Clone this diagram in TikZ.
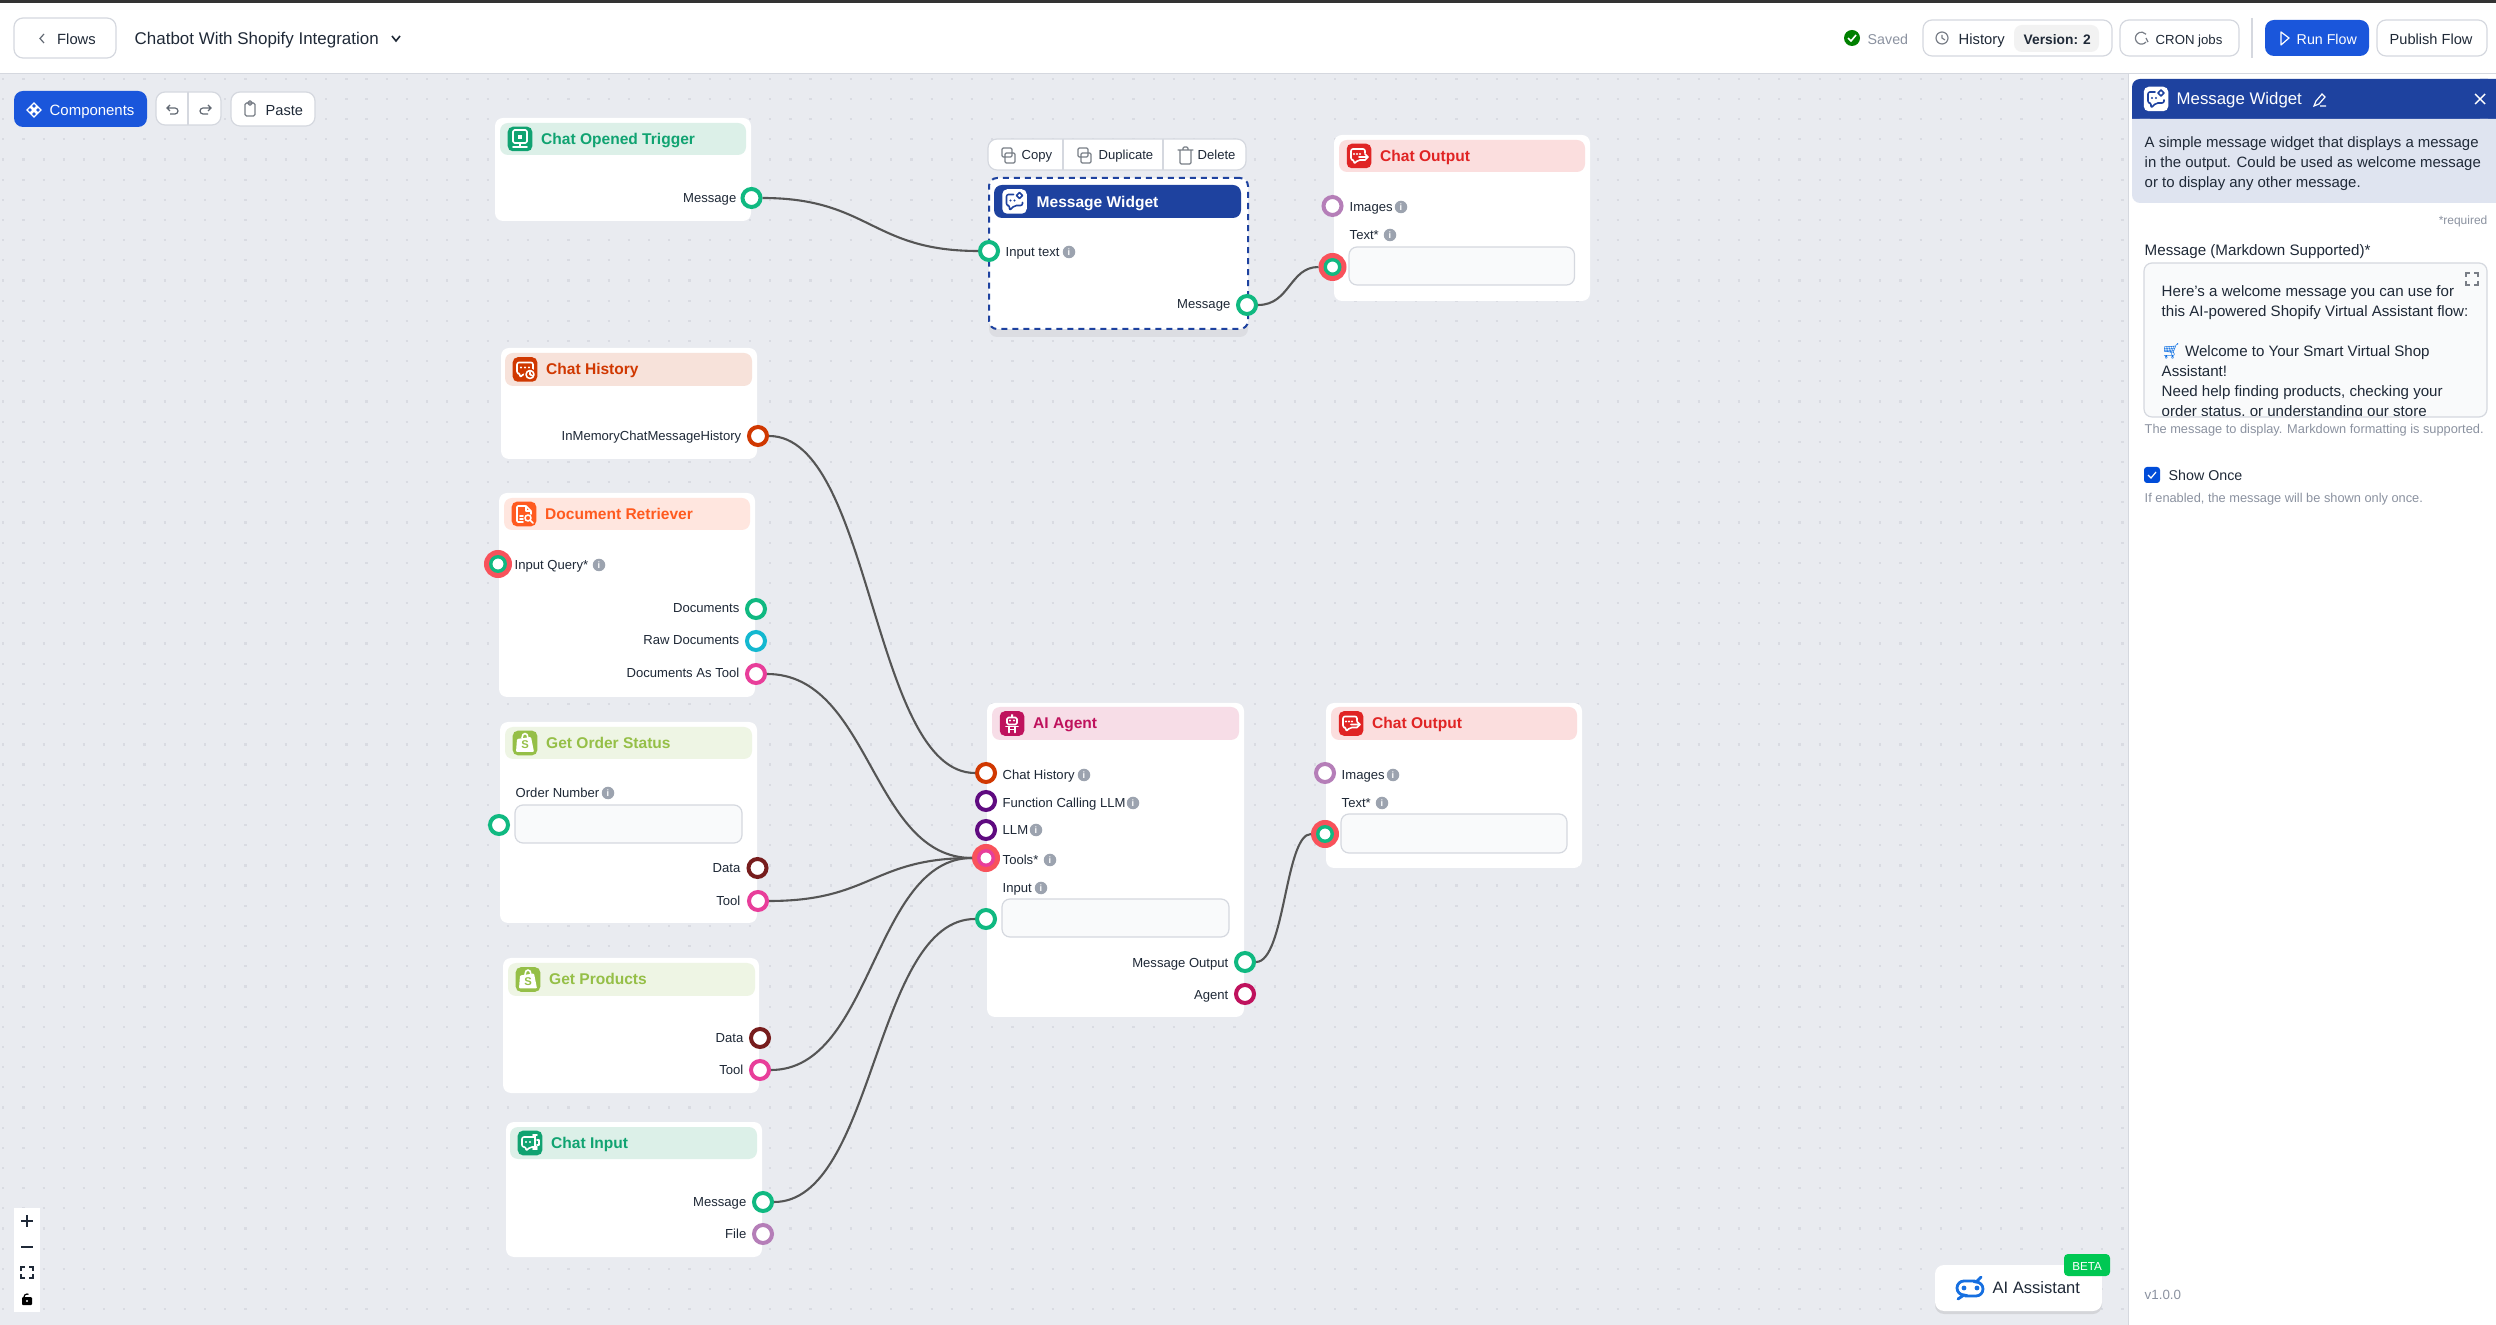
\documentclass[tikz,border=0pt]{standalone}
\usepackage{fontspec}
\setmainfont{Liberation Sans}
\newfontfamily\emojifont{Noto Emoji}
\usetikzlibrary{fit,shadows}
\definecolor{canvas}{HTML}{E9EBF0}
\definecolor{griddot}{HTML}{D9DBE2}
\definecolor{ink}{HTML}{1F2937}
\definecolor{muted}{HTML}{8B92A0}
\definecolor{hairline}{HTML}{D5D8DF}
\definecolor{fieldbg}{HTML}{F9FAFB}
\definecolor{wirecol}{HTML}{555555}
\definecolor{hotred}{HTML}{F8525B}
\definecolor{infogray}{HTML}{9CA3AF}
\definecolor{btnblue}{HTML}{1A56DB}
\definecolor{navy}{HTML}{1E429F}
\definecolor{panelbg}{HTML}{DFE4F0}
\definecolor{pgreen}{HTML}{10B981}
\definecolor{pteal}{HTML}{14B8D0}
\definecolor{ppink}{HTML}{E83E9A}
\definecolor{pmaroon}{HTML}{771D1D}
\definecolor{ppurple}{HTML}{B57EB8}
\definecolor{pviolet}{HTML}{5F0B80}
\definecolor{pcrimson}{HTML}{BF125D}
\definecolor{porange}{HTML}{D03801}
\definecolor{tealdk}{HTML}{10A371}
\definecolor{tealbg}{HTML}{DCF0E8}
\definecolor{reddk}{HTML}{E02424}
\definecolor{redbg}{HTML}{FBDEDE}
\definecolor{rustbg}{HTML}{F7E2DA}
\definecolor{flamedk}{HTML}{FF5A1F}
\definecolor{flamebg}{HTML}{FFE6DF}
\definecolor{shopdk}{HTML}{95BF47}
\definecolor{shopbg}{HTML}{EEF5E4}
\definecolor{agentbg}{HTML}{F7DDE7}
\definecolor{betagreen}{HTML}{00C853}
\tikzset{
  port/.style={circle,draw=#1,fill=white,line width=0.04cm,minimum size=0.18cm,inner sep=0pt},
  hotring/.style={port=#1,line width=0.034cm,minimum size=0.145cm},
  halo/.style={circle,fill=hotred,minimum size=0.28cm,inner sep=0pt,outer sep=0pt},
  wire/.style={draw=wirecol,line width=0.021cm},
  cardbox/.style={fill=white,rounded corners=0.08cm,inner sep=0pt,outer sep=0pt},
  stripbox/.style={rounded corners=0.08cm,inner sep=0pt,outer sep=0pt},
  fieldbox/.style={fill=fieldbg,draw=hairline,line width=0.012cm,rounded corners=0.08cm,inner sep=0pt,outer sep=0pt},
  btnbox/.style={fill=white,draw=hairline,line width=0.012cm,rounded corners=0.09cm,inner sep=0pt,outer sep=0pt},
  bluebox/.style={fill=btnblue,rounded corners=0.09cm,inner sep=0pt,outer sep=0pt},
  iconbox/.style={rounded corners=0.05cm,minimum size=0.245cm,inner sep=0pt,outer sep=0pt},
  lbl/.style={anchor=west,inner sep=0pt,text=ink,font=\fontsize{3.72}{4}\selectfont,text height=3.1pt,text depth=0.35pt},
  lblr/.style={lbl,anchor=east},
  ttl/.style={anchor=west,inner sep=0pt,font=\bfseries\fontsize{4.42}{5}\selectfont,text height=3.6pt,text depth=0.5pt},
  ui/.style={anchor=west,inner sep=0pt,text=ink,font=\fontsize{4.05}{5}\selectfont,text height=3.4pt,text depth=0.5pt},
  note/.style={anchor=west,inner sep=0pt,text=muted,font=\fontsize{3.64}{4}\selectfont,text height=2.9pt,text depth=0.3pt},
  info/.style={circle,fill=infogray,text=white,minimum size=0.125cm,inner sep=0pt,font=\bfseries\fontsize{2.6}{3}\selectfont},
  glyph/.style={line width=0.016cm,line cap=round,line join=round},
  tool/.style={draw=#1,line width=0.012cm,rounded corners=0.012cm,line cap=round}
}
\newcommand{\card}[5]{\node[cardbox,fit={(#2,#3)(#4,#5)}] (#1) {};}
\newcommand{\hdr}[9]{
  \node[stripbox,fill=#6,fit={(#2,#3)(#4,#5)}] (#1strip) {};
  \node[iconbox,fill=#7] (#1icon) at (#2+20,{(#3+#5)/2}) {};
  \begin{scope}[shift={(#2+20,{(#3+#5)/2})}] #9 \end{scope}
  \node[ttl,text=#7] (#1title) at (#2+40.5,{(#3+#5)/2}) {#8};
}
\newcommand{\hotport}[4]{
  \node[halo] (#1) at (#2,#3) {};
  \node[hotring=#4] (#1ring) at (#2,#3) {};
}
\newcommand{\glyphbubble}[1]{
  \draw[glyph,#1,rounded corners=0.02cm] (-8,-7) -- (8,-7) -- (8,4) -- (-1,4) -- (-5,8) -- (-5,4) -- (-8,4) -- cycle;
  \fill[#1] (-4,-2) circle (1.1) (0,-2) circle (1.1) (4,-2) circle (1.1);
}
\newcommand{\glyphout}{
  \draw[glyph,white,rounded corners=0.02cm] (6,-3) -- (6,-7) -- (-8,-7) -- (-8,4) -- (-5,4) -- (-5,8) -- (-1,4) -- (6,4);
  \fill[white] (-5,-2) circle (1.1) (-2,-2) circle (1.1) (1,-2) circle (1.1);
  \draw[glyph,white] (0,1) -- (9,1) (6,-2) -- (9,1) -- (6,4);
}
\newcommand{\glyphclock}{
  \glyphbubble{white}
  \fill[porange] (5,5) circle (6);
  \draw[glyph,white] (5,5) circle (4) (5,3) -- (5,5) -- (7,6);
}
\newcommand{\glyphdoc}{
  \draw[glyph,white,rounded corners=0.01cm] (-1,8) -- (-7,8) -- (-7,-8) -- (2,-8) -- (7,-3) -- (7,0);
  \draw[glyph,white] (2,-8) -- (2,-3) -- (7,-3) (-4,2) -- (-1,2) (-4,5) -- (-1,5);
  \draw[glyph,white] (4,4) circle (3) (6,6) -- (9,9);
}
\newcommand{\glyphbag}{
  \fill[white,rounded corners=0.01cm] (-8,-4) -- (6,-6) -- (9,9) -- (-9,9) -- cycle;
  \draw[glyph,white] (-3,-5) .. controls (-3,-11) and (3,-11) .. (3,-5);
  \node[font=\bfseries\fontsize{3.2}{3}\selectfont,text=shopdk,inner sep=0pt] at (0,2) {S};
}
\newcommand{\glyphbot}{
  \draw[glyph,white,rounded corners=0.015cm] (-5,-6) rectangle (5,1);
  \fill[white] (-2,-3) circle (1.2) (2,-3) circle (1.2) (-1,-9) rectangle (1,-6);
  \draw[glyph,white] (-6,3) -- (6,3) (-3,3) -- (-3,9) (3,3) -- (3,9) (-3,6) -- (3,6);
}
\newcommand{\glyphscreen}{
  \draw[glyph,white,rounded corners=0.015cm] (-7,-9) rectangle (7,4);
  \fill[white] (-2,-4) rectangle (2,0);
  \draw[glyph,white] (0,4) -- (0,8) (-7,8) -- (7,8);
}
\newcommand{\glyphin}{
  \draw[glyph,white,rounded corners=0.02cm] (4,-6) -- (-8,-6) -- (-8,4) -- (-4,4) -- (-4,8) -- (0,4) -- (7,4);
  \fill[white] (-4,-1) circle (1.1) (0,-1) circle (1.1);
  \draw[glyph,white] (5,-8) -- (5,6) (3,-8) -- (7,-8) (3,6) -- (7,6) (7,-3) -- (9,-3) -- (9,2) -- (7,2);
}
\newcommand{\glyphwidget}{
  \draw[glyph,navy,rounded corners=0.02cm] (-1,-7) -- (-8,-7) -- (-8,4) -- (-5,4) -- (-5,9) -- (0,4) -- (8,4) -- (8,1);
  \fill[navy] (-4,-1) circle (1.1) (0,-1) circle (1.1);
  \draw[glyph,navy] (5,-9) -- (8,-6) -- (5,-3) -- (2,-6) -- cycle;
}
\begin{document}
\begin{tikzpicture}[x=0.01cm,y=-0.01cm]
\useasboundingbox (0,0) rectangle (2496,1325);
\fill[white] (0,0) rectangle (2496,1325);
\fill[canvas] (0,74) rectangle (2128,1325);
\foreach \j in {0,...,61} \draw[griddot,line width=0.022cm,dash pattern=on 0.022cm off 0.1797cm] (2.2,\j*20.17+78.8) -- (2128,\j*20.17+78.8);
\fill[black!80] (0,0) rectangle (2496,3);
\draw[hairline,line width=0.01cm] (0,74) -- (2496,74) (2128,74) -- (2128,1325);

\node[btnbox,fit={(14,18)(116,58)}] (flowsbtn) {};
\draw[ink!70,line width=0.012cm] (44,34) -- (40,38.5) -- (44,43);
\node[ui,font=\fontsize{4.2}{5}\selectfont] (flowstxt) at (56.5,39) {Flows};
\node[ui,font=\fontsize{4.82}{5}\selectfont] (flowname) at (134,39) {Chatbot With Shopify Integration};
\draw[ink,line width=0.016cm] (392,36) -- (396,41) -- (400,36);
\node[bluebox,fit={(14,91)(147,127)}] (compbtn) {};
\draw[white,line width=0.012cm] (34,103) -- (37,106) -- (34,109) -- (31,106) -- cycle (34,111) -- (37,114) -- (34,117) -- (31,114) -- cycle (30,107) -- (33,110) -- (30,113) -- (27,110) -- cycle (38,107) -- (41,110) -- (38,113) -- (35,110) -- cycle;
\node[ui,text=white,font=\fontsize{4.25}{5}\selectfont] (comptxt) at (49,110) {Components};
\node[btnbox,fit={(156,92)(221,125)}] (undobtn) {};
\draw[hairline,line width=0.012cm] (188,92) -- (188,125);
\draw[ink!70,line width=0.012cm] (167,108) -- (175,108) arc (-90:90:3) -- (170,114) (170,105) -- (167,108) -- (170,111);
\draw[ink!70,line width=0.012cm] (211,108) -- (203,108) arc (270:90:3) -- (208,114) (208,105) -- (211,108) -- (208,111);
\node[btnbox,fit={(231,92)(315,126)}] (pastebtn) {};
\draw[ink!60,line width=0.012cm,rounded corners=0.015cm] (245,103) rectangle (255,116) (248,101) rectangle (252,105);
\node[ui,font=\fontsize{4.15}{5}\selectfont] (pastetxt) at (265,110) {Paste};

\fill[green!50!black] (1852,38) circle (8);
\draw[white,line width=0.016cm] (1848,38) -- (1851,41) -- (1856,35);
\node[ui,text=muted] (savedtxt) at (1867,39) {Saved};
\node[btnbox,fit={(1923,20)(2112,56)}] (histbtn) {};
\draw[ink!60,line width=0.012cm] (1942,38) circle (6) (1942,35) -- (1942,38) -- (1945,40);
\node[ui,font=\fontsize{4.2}{5}\selectfont] (histtxt) at (1958,39) {History};
\node[stripbox,fill=gray!10,fit={(2014,25)(2099,52)}] (verbox) {};
\node[ui,font=\bfseries\fontsize{3.92}{5}\selectfont] (vertxt) at (2023,39) {Version: 2};
\node[btnbox,fit={(2120,20)(2239,56)}] (cronbtn) {};
\draw[ink!60,line width=0.012cm] (2146,42) arc (40:320:6) (2146,38) -- (2148,42);
\node[ui,font=\fontsize{3.75}{5}\selectfont] (crontxt) at (2155,39) {CRON jobs};
\draw[hairline,line width=0.012cm] (2252,18) -- (2252,58);
\node[bluebox,fit={(2265,20)(2369,56)}] (runbtn) {};
\draw[white,line width=0.012cm,line join=round] (2281,32) -- (2289,38) -- (2281,45) -- cycle;
\node[ui,text=white] (runtxt) at (2296,39) {Run Flow};
\node[btnbox,fit={(2377,20)(2487,56)}] (pubbtn) {};
\node[ui,font=\fontsize{4.15}{5}\selectfont] (pubtxt) at (2389,39) {Publish Flow};

\card{chatopen}{495}{118}{751}{221}
\hdr{chatopen}{500}{123}{746}{155}{tealbg}{tealdk}{Chat Opened Trigger}{\glyphscreen}
\node[lblr] (chatopenmsg) at (737,198) {Message};
\node[port=pgreen] (chatopenout) at (751.5,198) {};

\node[btnbox,fit={(988,139)(1246,170)}] (toolbar) {};
\draw[hairline,line width=0.012cm] (1063,139) -- (1063,170) (1163,139) -- (1163,170);
\draw[tool=ink!60] (1002,157) rectangle (1012,148) (1005,163) rectangle (1015,153);
\node[lbl] (copytxt) at (1021,155) {Copy};
\draw[tool=ink!60] (1078,157) rectangle (1088,148) (1081,163) rectangle (1091,153);
\node[lbl] (duptxt) at (1098,155) {Duplicate};
\draw[tool=ink!60] (1180,150) -- (1180,164) -- (1191,164) -- (1191,150) (1178,150) -- (1193,150) (1183,150) -- (1183,147) -- (1188,147) -- (1188,150);
\node[lbl] (deltxt) at (1197,155) {Delete};
\node[cardbox,fit={(989,178)(1248,329)},draw=navy,line width=0.02cm,dash pattern=on 0.06cm off 0.05cm,drop shadow={opacity=0.12,shadow xshift=0cm,shadow yshift=-0.08cm}] (widget) {};
\node[stripbox,fill=navy,fit={(994,185)(1241,218)}] (widgetstrip) {};
\node[iconbox,fill=white] (widgeticon) at (1014.5,201.5) {};
\begin{scope}[shift={(1014.5,201.5)}] \glyphwidget \end{scope}
\node[ttl,text=white] (widgettitle) at (1036,202) {Message Widget};
\node[lbl] (widgetin) at (1005,252) {Input text};
\node[info] (widgetinfo) at (1069,252) {i};
\node[port=pgreen] (widgetport) at (989,251) {};
\node[lblr] (widgetmsg) at (1231,304) {Message};
\node[port=pgreen] (widgetout) at (1247,305) {};

\card{outone}{1334}{135}{1590}{301}
\hdr{outone}{1339}{140}{1585}{172}{redbg}{reddk}{Chat Output}{\glyphout}
\node[lbl] (outoneimg) at (1349,207) {Images};
\node[info] (outoneimginfo) at (1401,207) {i};
\node[port=ppurple] (outoneimgport) at (1332.5,206) {};
\node[lbl] (outonetxt) at (1349,235) {Text*};
\node[info] (outonetxtinfo) at (1390,235) {i};
\node[fieldbox,fit={(1349,247)(1574.5,285)}] (outonefield) {};
\hotport{outonein}{1332.5}{267}{pgreen}

\card{hist}{501}{348}{757}{459}
\hdr{hist}{505}{353}{752}{386}{rustbg}{porange}{Chat History}{\glyphclock}
\node[lblr] (histmem) at (742,436) {InMemoryChatMessageHistory};
\node[port=porange] (histout) at (758,436) {};

\card{retr}{499}{493}{755}{697}
\hdr{retr}{504}{498}{750}{530}{flamebg}{flamedk}{Document Retriever}{\glyphdoc}
\node[lbl] (retrquery) at (514,565) {Input Query*};
\node[info] (retrinfo) at (599,565) {i};
\hotport{retrin}{498}{564}{pgreen}
\node[lblr] (retrdocs) at (740,608) {Documents};
\node[port=pgreen] (retrdocsport) at (756,609) {};
\node[lblr] (retrraw) at (740,640) {Raw Documents};
\node[port=pteal] (retrrawport) at (756,641) {};
\node[lblr] (retrtool) at (740,673) {Documents As Tool};
\node[port=ppink] (retrtoolport) at (756,674) {};

\card{order}{500}{722}{757}{923}
\hdr{order}{505}{727}{752}{759}{shopbg}{shopdk}{Get Order Status}{\glyphbag}
\node[lbl] (ordernum) at (515,793) {Order Number};
\node[info] (orderinfo) at (608,793) {i};
\node[fieldbox,fit={(515,805)(742,843)}] (orderfield) {};
\node[port=pgreen] (orderin) at (499,825) {};
\node[lblr] (orderdata) at (741,868) {Data};
\node[port=pmaroon] (orderdataport) at (757.5,868) {};
\node[lblr] (ordertool) at (741,901) {Tool};
\node[port=ppink] (ordertoolport) at (758,901) {};

\card{prod}{503}{958}{759}{1093}
\hdr{prod}{508}{963}{755}{996}{shopbg}{shopdk}{Get Products}{\glyphbag}
\node[lblr] (proddata) at (744,1038) {Data};
\node[port=pmaroon] (proddataport) at (760,1038) {};
\node[lblr] (prodtool) at (744,1070) {Tool};
\node[port=ppink] (prodtoolport) at (760,1070) {};

\card{inp}{506}{1122}{762}{1257}
\hdr{inp}{510}{1127}{757}{1159}{tealbg}{tealdk}{Chat Input}{\glyphin}
\node[lblr] (inpmsg) at (747,1202) {Message};
\node[port=pgreen] (inpout) at (763,1202) {};
\node[lblr] (inpfile) at (747,1234) {File};
\node[port=ppurple] (inpfileport) at (763,1234) {};

\card{agent}{987}{703}{1244}{1017}
\hdr{agent}{992}{707}{1239}{740}{agentbg}{pcrimson}{AI Agent}{\glyphbot}
\node[lbl] (agenthist) at (1002,775) {Chat History};
\node[info] (agenthistinfo) at (1084,775) {i};
\node[port=porange] (agenthistport) at (986,773) {};
\node[lbl] (agentfunc) at (1002,803) {Function Calling LLM};
\node[info] (agentfuncinfo) at (1133,803) {i};
\node[port=pviolet] (agentfuncport) at (986,801) {};
\node[lbl] (agentllm) at (1002,830) {LLM};
\node[info] (agentllminfo) at (1036,830) {i};
\node[port=pviolet] (agentllmport) at (986,830) {};
\node[lbl] (agenttools) at (1002,860) {Tools*};
\node[info] (agenttoolsinfo) at (1050,860) {i};
\hotport{agenttoolsport}{986}{858}{ppink}
\node[lbl] (agentinput) at (1002,888) {Input};
\node[info] (agentinputinfo) at (1041,888) {i};
\node[fieldbox,fit={(1002,899)(1229,937)}] (agentfield) {};
\node[port=pgreen] (agentinport) at (986,919) {};
\node[lblr] (agentmsg) at (1229,963) {Message Output};
\node[port=pgreen] (agentmsgport) at (1245,962) {};
\node[lblr] (agentagent) at (1229,995) {Agent};
\node[port=pcrimson] (agentport) at (1245,994) {};

\card{outtwo}{1326}{703}{1582}{868}
\hdr{outtwo}{1331}{707}{1577}{740}{redbg}{reddk}{Chat Output}{\glyphout}
\node[lbl] (outtwoimg) at (1341,775) {Images};
\node[info] (outtwoimginfo) at (1393,775) {i};
\node[port=ppurple] (outtwoimgport) at (1325,773) {};
\node[lbl] (outtwotxt) at (1341,803) {Text*};
\node[info] (outtwotxtinfo) at (1382,803) {i};
\node[fieldbox,fit={(1341,814)(1567,853)}] (outtwofield) {};
\hotport{outtwoin}{1325}{834}{pgreen}

\draw[wire] (chatopenout) .. controls +(118,0) and +(-118,0) .. (widgetport);
\draw[wire] (widgetout) .. controls +(43,0) and +(-43,0) .. (outonein);
\draw[wire] (histout) .. controls +(114,0) and +(-114,0) .. (agenthistport);
\draw[wire] (retrtoolport) .. controls +(115,0) and +(-115,0) .. (agenttoolsport);
\draw[wire] (ordertoolport) .. controls +(114,0) and +(-114,0) .. (agenttoolsport);
\draw[wire] (prodtoolport) .. controls +(113,0) and +(-113,0) .. (agenttoolsport);
\draw[wire] (inpout) .. controls +(112,0) and +(-112,0) .. (agentinport);
\draw[wire] (agentmsgport) .. controls +(40,0) and +(-40,0) .. (outtwoin);

\fill[navy,rounded corners=0.08cm] (2132,119) -- (2132,79) -- (2496,79) -- (2496,119) [sharp corners] -- cycle;
\fill[navy] (2132,100) rectangle (2150,119) (2480,79) rectangle (2496,119);
\fill[panelbg,rounded corners=0.08cm] (2132,119) -- (2132,203) -- (2496,203) -- (2496,119) -- cycle;
\fill[panelbg] (2132,119) rectangle (2150,140) (2480,119) rectangle (2496,203);
\node[iconbox,fill=white] (paneicon) at (2156,99) {};
\begin{scope}[shift={(2156,99)}] \glyphwidget \end{scope}
\node[ui,text=white,font=\fontsize{4.78}{5}\selectfont] (panetitle) at (2176,99) {Message Widget};
\draw[white,line width=0.012cm] (2314,106) -- (2316,101) -- (2322,94) -- (2325,97) -- (2319,104) -- cycle (2320,106) -- (2326,106);
\draw[white,line width=0.014cm] (2475,94) -- (2485,104) (2485,94) -- (2475,104);
\node[anchor=west,inner sep=0pt,text=ink,font=\fontsize{4.25}{5.69}\selectfont,align=left] (panedesc) at (2144,163.5) {A simple message widget that displays a message\\in the output. Could be used as welcome message\\or to display any other message.};
\node[note,anchor=east,font=\fontsize{3.4}{4}\selectfont] (panereq) at (2488,220) {*required};
\node[ui,font=\fontsize{4.31}{5}\selectfont] (msgfieldlbl) at (2144,250) {Message (Markdown Supported)*};
\node[fieldbox,fit={(2144,263)(2487,417)}] (msgfield) {};
\draw[ink!60,line width=0.012cm] (2466,277) -- (2466,273) -- (2470,273) (2474,273) -- (2478,273) -- (2478,277) (2478,281) -- (2478,285) -- (2474,285) (2470,285) -- (2466,285) -- (2466,281);
\begin{scope}
\clip (2144,264) rectangle (2487,416);
\node[anchor=north west,inner sep=0pt,text=ink,font=\fontsize{4.29}{5.69}\selectfont,align=left] (msgbody) at (2161,285) {Here's a welcome message you can use for\\this AI-powered Shopify Virtual Assistant flow:\\[5.69pt]{\emojifont\color{pteal!60!blue}🛒} Welcome to Your Smart Virtual Shop\\Assistant!\\Need help finding products, checking your\\order status, or understanding our store};
\end{scope}
\node[note] (msghint) at (2144,429) {The message to display. Markdown formatting is supported.};
\node[iconbox,fill=blue!65!cyan!85!black,minimum size=0.16cm,rounded corners=0.03cm] (checkbox) at (2152,475) {};
\draw[white,line width=0.012cm] (2148,475) -- (2151,478) -- (2156,472);
\node[ui] (showonce) at (2168,475) {Show Once};
\node[note] (showhint) at (2144,498) {If enabled, the message will be shown only once.};
\node[note,font=\fontsize{3.8}{4}\selectfont] (version) at (2144,1295) {v1.0.0};

\node[btnbox,draw=none,fit={(1935,1265)(2102,1311)},drop shadow={opacity=0.2,shadow xshift=0cm,shadow yshift=-0.03cm}] (assistbtn) {};
\draw[btnblue!85!cyan,line width=0.028cm,line cap=round] (1975,1281) -- (1964,1281) arc (270:90:7) -- (1958,1299) (1965,1296) -- (1976,1296) arc (90:-90:7) -- (1981,1277);
\fill[btnblue!85!cyan] (1964,1288) circle (2.4) (1977,1288) circle (2.4);
\node[ui,font=\fontsize{4.7}{5}\selectfont] (assisttxt) at (1992,1288) {AI Assistant};
\node[stripbox,fill=betagreen,rounded corners=0.04cm,fit={(2064,1254)(2110,1276)}] (betabox) {};
\node[ui,text=white,font=\fontsize{3.3}{4}\selectfont,anchor=center] (betatxt) at (2087,1265) {BETA};

\fill[white] (14,1208) rectangle (40,1312);
\draw[ink,line width=0.016cm] (21,1221) -- (33,1221) (27,1215) -- (27,1227) (21,1247) -- (33,1247);
\draw[ink,line width=0.012cm] (21,1271) -- (21,1267) -- (25,1267) (29,1267) -- (33,1267) -- (33,1271) (33,1274) -- (33,1278) -- (29,1278) (25,1278) -- (21,1278) -- (21,1274);
\fill[black,rounded corners=0.01cm] (22,1297) rectangle (32,1305);
\draw[black,line width=0.012cm] (24,1297) arc (180:300:3);
\fill[white] (27,1301) circle (1.2);
\end{tikzpicture}
\end{document}
